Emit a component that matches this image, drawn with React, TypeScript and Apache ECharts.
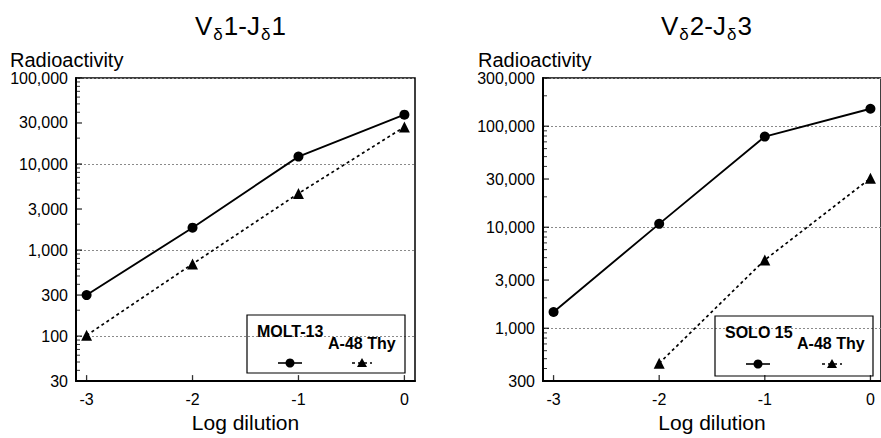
import React, { useEffect, useRef } from "react";
import * as echarts from "echarts";

const dilutions = [-3, -2, -1, 0];
const molt13 = [300, 1820, 12200, 37500];
const a48ThyLeft = [102, 690, 4550, 27000];
const solo15 = [1450, 10800, 79000, 149000];
const a48ThyRight: (number | null)[] = [null, 450, 4750, 30500];
const leftTicks = [30, 100, 300, 1000, 3000, 10000, 30000, 100000];
const rightTicks = [300, 1000, 3000, 10000, 30000, 100000, 300000];
const xTicks = [-3, -2, -1, 0];

const FONT = "'Liberation Sans', Arial, Helvetica, sans-serif";
const X_MIN = -3.1;
const X_MAX = 0.1;

function minorTicks(min: number, max: number, major: number[]) {
  const out: number[] = [];
  for (let d = 10; d <= max; d *= 10) {
    for (let m = 1; m <= 9; m++) {
      const v = m * d;
      if (v > min && v < max && major.indexOf(v) < 0) out.push(v);
    }
  }
  return out;
}

const fmt = (v: number) => Number(v).toLocaleString("en-US");

function yAxis(gridIndex: number, min: number, max: number, major: number[]) {
  return {
    type: "log",
    logBase: 10,
    gridIndex,
    min,
    max,
    position: "left",
    axisLine: { show: true, onZero: false, lineStyle: { color: "#000", width: 2 } },
    axisTick: { show: false },
    axisLabel: {
      customValues: major,
      formatter: fmt,
      color: "#000",
      fontSize: 16,
      fontFamily: FONT,
      margin: 8,
    },
    splitLine: {
      show: true,
      lineStyle: { color: "#8a8a8a", width: 1, type: [2, 2] },
    },
  };
}

function xAxis(gridIndex: number) {
  return {
    type: "value",
    gridIndex,
    min: X_MIN,
    max: X_MAX,
    name: "Log dilution",
    nameLocation: "middle",
    nameGap: 29,
    nameTextStyle: { fontSize: 21, color: "#000", fontFamily: FONT },
    axisLine: { show: true, onZero: false, lineStyle: { color: "#000", width: 2 } },
    axisTick: { show: false },
    axisLabel: {
      customValues: xTicks,
      color: "#000",
      fontSize: 16,
      fontFamily: FONT,
      margin: 10,
    },
    splitLine: { show: false },
  };
}

// tick marks placed through the axes' own scales (scatter with thin rect symbols)
function tickSeries(idx: number, points: number[][], dir: "x" | "y", len: number, width: number) {
  return {
    type: "scatter",
    xAxisIndex: idx,
    yAxisIndex: idx,
    data: points,
    clip: false,
    silent: true,
    z: 6,
    symbol: "rect",
    symbolSize: dir === "y" ? [len, width] : [width, len],
    symbolOffset: dir === "y" ? [len / 2, 0] : [0, -len / 2],
    itemStyle: { color: "#000" },
  };
}

function lineSeries(
  name: string,
  idx: number,
  data: (number | null)[],
  symbol: string,
  dashed: boolean
) {
  return {
    name,
    type: "line",
    xAxisIndex: idx,
    yAxisIndex: idx,
    data: dilutions.map((d, i) => [d, data[i]]).filter((p) => p[1] != null),
    symbol,
    symbolSize: symbol === "circle" ? 10 : 11,
    showSymbol: true,
    itemStyle: { color: "#000" },
    lineStyle: { color: "#000", width: dashed ? 1.7 : 1.9, type: dashed ? [3, 3] : "solid" },
    z: 5,
  };
}

function titleRich(a: string, b: string) {
  return {
    text: `{n|V}{s|δ}{n|${a}-J}{s|δ}{n|${b}}`,
    textStyle: {
      fontWeight: "normal",
      rich: {
        n: { fontSize: 26, fontFamily: FONT, fontWeight: "normal", color: "#000", lineHeight: 34, verticalAlign: "middle" },
        s: { fontSize: 17, fontFamily: FONT, fontWeight: "normal", color: "#000", lineHeight: 34, verticalAlign: "bottom", padding: [0, 1, 0, 1] },
      },
    },
  };
}

function legendGraphic(x: number, y: number, h: number, label: string, l1x: number, l1y: number, l2x: number, l2y: number, symY: number, cx: number, tx: number) {
  const ts = { fontSize: 16, fontFamily: FONT, fontWeight: "bold", fill: "#000", verticalAlign: "middle" };
  return [
    {
      type: "rect",
      shape: { x, y, width: 158, height: h },
      style: { fill: "none", stroke: "#000", lineWidth: 1.2 },
      z: 10,
    },
    { type: "text", x: l1x, y: l1y, style: { ...ts, text: label }, z: 10 },
    { type: "text", x: l2x, y: l2y, style: { ...ts, text: "A-48 Thy" }, z: 10 },
    {
      type: "line",
      shape: { x1: cx - 12, y1: symY, x2: cx + 12, y2: symY },
      style: { stroke: "#000", lineWidth: 1.6 },
      z: 10,
    },
    { type: "circle", shape: { cx, cy: symY, r: 4.5 }, style: { fill: "#000" }, z: 10 },
    {
      type: "line",
      shape: { x1: tx - 10, y1: symY, x2: tx + 10, y2: symY },
      style: { stroke: "#000", lineWidth: 1.6, lineDash: [3, 3] },
      z: 10,
    },
    {
      type: "polygon",
      shape: { points: [[tx, symY - 5], [tx - 5, symY + 4], [tx + 5, symY + 4]] },
      style: { fill: "#000" },
      z: 10,
    },
  ];
}

function ticksFor(idx: number, yMin: number, yMax: number, major: number[]) {
  return [
    tickSeries(idx, major.map((v) => [X_MIN, v]), "y", 6, 1.3),
    tickSeries(idx, minorTicks(yMin, yMax, major).map((v) => [X_MIN, v]), "y", 4, 1),
    tickSeries(idx, xTicks.map((v) => [v, yMin]), "x", 6, 1.3),
  ];
}

export default function App() {
  const ref = useRef<HTMLDivElement>(null);
  useEffect(() => {
    if (!ref.current) return;
    const chart = echarts.init(ref.current, undefined, { renderer: "svg" });
    const option: any = {
      animation: false,
      backgroundColor: "#fff",
      title: [
        { ...titleRich("1", "1"), left: 190, top: 4 },
        { ...titleRich("2", "3"), left: 656, top: 4 },
      ],
      grid: [
        { left: 76, top: 78, width: 339, height: 307, show: true, borderColor: "#000", borderWidth: 1.5, backgroundColor: "transparent" },
        { left: 543, top: 78, width: 340, height: 307, show: true, borderColor: "#000", borderWidth: 1.5, backgroundColor: "transparent" },
      ],
      xAxis: [xAxis(0), xAxis(1)],
      yAxis: [yAxis(0, 30, 100000, leftTicks), yAxis(1, 300, 300000, rightTicks)],
      series: [
        lineSeries("MOLT-13", 0, molt13, "circle", false),
        lineSeries("A-48 Thy", 0, a48ThyLeft, "triangle", true),
        lineSeries("SOLO 15", 1, solo15, "circle", false),
        lineSeries("A-48 Thy", 1, a48ThyRight, "triangle", true),
        ...ticksFor(0, 30, 100000, leftTicks),
        ...ticksFor(1, 300, 300000, rightTicks),
      ],
      graphic: [
        {
          type: "text",
          x: 10,
          y: 60,
          style: { text: "Radioactivity", fontSize: 20, fontFamily: FONT, fill: "#000", verticalAlign: "middle" },
        },
        {
          type: "text",
          x: 478,
          y: 60,
          style: { text: "Radioactivity", fontSize: 20, fontFamily: FONT, fill: "#000", verticalAlign: "middle" },
        },
        ...legendGraphic(247, 315, 58, "MOLT-13", 257, 331, 328, 343, 363, 290, 362),
        ...legendGraphic(715, 316, 60, "SOLO 15", 725, 332, 797, 343, 364, 758, 832),
      ],
    };
    chart.setOption(option);
    return () => chart.dispose();
  }, []);
  return <div ref={ref} style={{ width: 881, height: 438, position: "absolute", left: 0, top: 0 }} />;
}
